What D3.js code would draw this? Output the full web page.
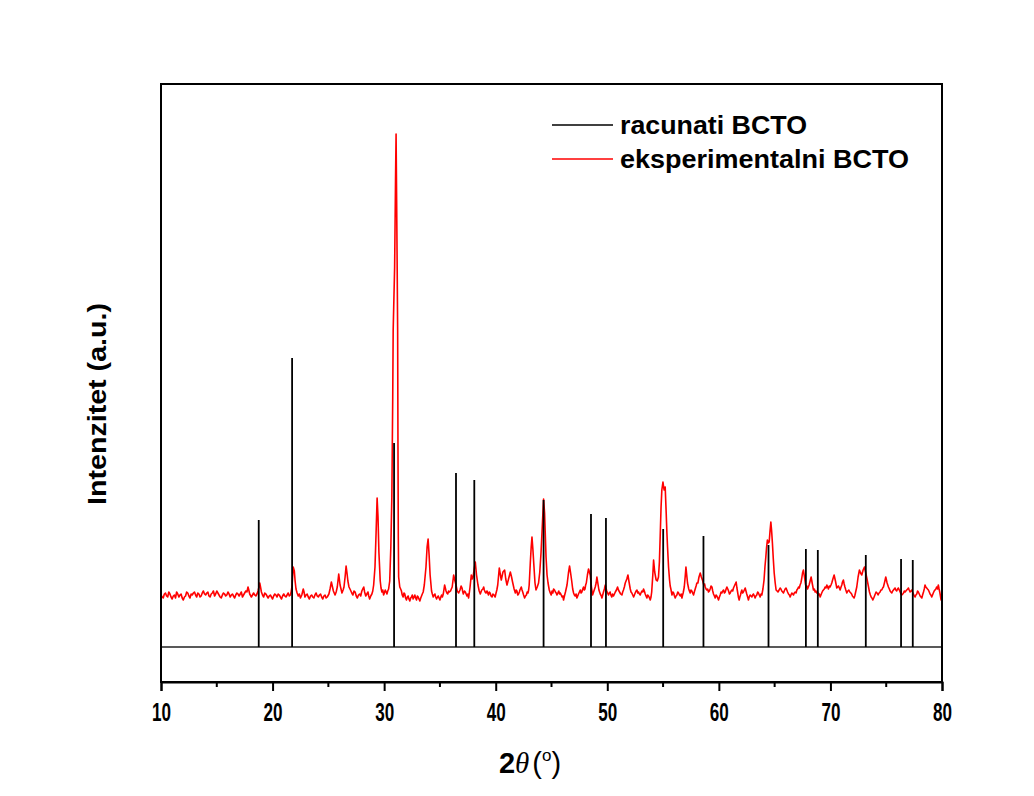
<!DOCTYPE html>
<html>
<head>
<meta charset="utf-8">
<script src="https://cdn.jsdelivr.net/npm/d3@7"></script>
<style>
  body { margin: 0; background: #fff; }
  svg { display: block; }
</style>
</head>
<body>
<div id="chart"></div>
<script>
// calculated (stick) pattern: 2theta positions and relative intensities
const stickAngles = [18.76, 21.75, 30.89, 36.44, 38.08, 44.29, 48.54, 49.88, 55.01, 58.62, 64.45, 67.80, 68.87, 73.17, 76.33, 77.38];
const stickIntensities = [127, 289, 204, 174, 167, 147, 133, 129, 118, 111, 102, 98, 97, 92, 88, 87];

// experimental pattern [2theta, intensity]
const experimental = [
  [10.0,52],[10.1,50],[10.2,49],[10.3,53],[10.4,54],[10.5,51],[10.6,50],[10.7,55],[10.8,53],[10.9,50],
  [11.0,48],[11.1,51],[11.2,52],[11.3,49],[11.4,55],[11.5,53],[11.6,50],[11.7,52],[11.8,53],[11.9,49],
  [12.0,47],[12.1,50],[12.2,51],[12.3,55],[12.4,54],[12.5,51],[12.6,49],[12.7,53],[12.8,52],[12.9,54],
  [13.0,55],[13.1,52],[13.2,50],[13.3,54],[13.4,53],[13.5,50],[13.6,51],[13.7,54],[13.8,56],[13.9,53],
  [14.0,52],[14.1,54],[14.2,55],[14.3,51],[14.4,50],[14.5,53],[14.6,54],[14.7,56],[14.8,51],[14.9,53],
  [15.0,56],[15.1,54],[15.2,52],[15.3,50],[15.4,49],[15.5,52],[15.6,54],[15.7,53],[15.8,51],[15.9,52],
  [16.0,55],[16.1,53],[16.2,50],[16.3,52],[16.4,53],[16.5,51],[16.6,49],[16.7,52],[16.8,54],[16.9,53],
  [17.0,51],[17.1,53],[17.2,55],[17.3,50],[17.4,52],[17.5,54],[17.6,56],[17.7,55],[17.8,60],[17.87,57],
  [17.95,53],[18.1,50],[18.2,52],[18.3,54],[18.4,52],[18.5,51],[18.6,53],[18.7,56],[18.78,60],[18.85,64],
  [18.92,60],[19.0,55],[19.1,52],[19.2,50],[19.3,54],[19.4,53],[19.5,51],[19.6,49],[19.7,51],[19.8,52],
  [19.9,50],[20.0,48],[20.1,51],[20.2,53],[20.3,52],[20.4,50],[20.5,53],[20.6,52],[20.7,50],[20.8,48],
  [20.9,51],[21.0,53],[21.1,51],[21.2,50],[21.3,52],[21.4,54],[21.5,51],[21.6,52],[21.68,56],
  [21.75,62],[21.85,80],[21.95,76],[22.02,66],[22.1,58],[22.2,54],[22.3,51],[22.4,53],[22.5,49],[22.62,52],
  [22.75,58],[22.82,55],[22.9,50],[23.0,52],[23.1,53],[23.2,50],[23.3,48],[23.4,51],[23.5,52],[23.6,50],
  [23.7,49],[23.8,52],[23.9,54],[24.0,51],[24.1,50],[24.2,52],[24.3,53],[24.4,50],[24.5,48],[24.6,51],
  [24.7,52],[24.8,49],[24.9,50],[25.05,53],[25.15,58],[25.27,65],[25.35,61],[25.45,56],[25.6,52],[25.7,55],
  [25.8,60],[25.93,73],[26.05,62],[26.22,54],[26.32,57],[26.4,60],[26.5,70],[26.59,81],[26.67,74],[26.75,66],
  [26.85,60],[26.98,57],[27.1,54],[27.2,52],[27.3,56],[27.4,55],[27.5,51],[27.6,49],[27.7,52],[27.8,53],
  [27.9,51],[28.0,56],[28.08,58],[28.17,60],[28.25,55],[28.35,51],[28.45,53],[28.55,55],[28.62,51],[28.7,48],
  [28.8,51],[28.9,53],[28.98,56],
  [29.06,62],[29.18,80],[29.28,115],[29.37,149],[29.45,130],[29.53,95],[29.65,66],[29.72,59],[29.8,55],[29.88,57],
  [29.95,52],[30.02,54],[30.1,57],[30.18,55],[30.25,53],[30.32,56],[30.4,58],[30.5,66],[30.6,100],[30.69,150],
  [30.77,250],[30.81,317],[30.94,380],[31.02,467],[31.07,513],[31.12,447],[31.17,377],[31.21,317],[31.24,200],
  [31.27,110],[31.3,70],[31.4,60],[31.48,58],[31.55,56],[31.62,52],[31.7,50],[31.78,54],[31.85,53],[31.92,49],
  [32.0,47],[32.08,50],[32.15,51],[32.22,48],[32.3,46],[32.38,49],[32.45,50],[32.52,52],[32.6,48],[32.68,50],
  [32.75,52],[32.82,49],[32.9,47],[32.98,51],[33.05,50],[33.12,48],[33.2,46],[33.28,49],[33.35,51],[33.42,53],
  [33.5,55],[33.6,62],[33.75,80],[33.85,100],[33.94,108],[34.03,92],[34.12,72],[34.25,56],[34.32,53],[34.4,50],
  [34.48,52],[34.55,53],[34.62,50],[34.7,48],[34.78,50],[34.85,51],[34.92,49],[35.0,47],[35.08,50],[35.15,52],
  [35.22,50],[35.3,53],[35.42,62],[35.55,56],[35.62,54],[35.7,53],[35.78,56],[35.85,55],[35.95,56],[36.02,58],
  [36.1,60],[36.23,72],[36.35,66],[36.44,62],[36.55,56],[36.68,54],[36.8,57],[36.9,61],[36.98,59],[37.05,55],
  [37.1,53],[37.2,56],[37.28,55],[37.35,53],[37.42,51],[37.5,53],[37.57,49],[37.63,54],[37.7,60],[37.81,72],
  [37.9,68],[37.97,70],[38.07,78],[38.17,85],[38.28,72],[38.41,62],[38.52,56],[38.62,53],[38.68,55],[38.75,57],
  [38.85,58],[38.92,60],[38.98,57],[39.05,55],[39.12,54],[39.22,56],[39.28,54],[39.35,52],[39.42,55],[39.5,54],
  [39.58,51],[39.67,50],[39.75,53],[39.85,52],[39.95,50],[40.03,54],[40.1,57],
  [40.18,62],[40.32,79],[40.42,72],[40.5,67],[40.65,75],[40.8,77],[40.9,68],[41.01,62],[41.15,68],[41.31,75],
  [41.42,70],[41.51,65],[41.65,58],[41.76,54],[41.83,57],[41.9,56],[41.98,52],[42.05,53],[42.12,55],[42.17,57],
  [42.29,60],[42.36,57],[42.42,55],[42.5,52],[42.59,49],[42.67,51],[42.75,52],[42.82,55],[42.89,54],[42.95,57],
  [43.0,62],[43.1,84],[43.18,100],[43.25,110],[43.33,98],[43.43,80],[43.52,64],[43.61,57],[43.72,60],[43.84,64],
  [43.95,75],[44.06,94],[44.2,127],[44.29,148],[44.38,134],[44.51,90],[44.6,72],[44.69,64],[44.8,57],[44.89,54],
  [44.97,52],[45.05,56],[45.12,54],[45.19,58],[45.27,57],[45.35,55],[45.42,54],[45.49,52],[45.57,54],[45.65,56],
  [45.72,53],[45.79,54],[45.87,52],[45.95,50],[46.02,51],[46.08,47],[46.16,51],[46.25,55],[46.39,62],[46.52,74],
  [46.62,81],[46.7,75],[46.8,67],[46.9,58],[46.98,54],[47.05,52],[47.12,51],[47.2,53],[47.28,49],[47.35,51],
  [47.42,53],[47.5,55],[47.58,57],[47.65,54],[47.72,55],[47.8,58],[47.87,60],[47.94,57],[48.0,58],[48.06,62],
  [48.12,64],[48.22,72],[48.32,78],[48.4,75],[48.47,72],[48.58,60],[48.68,52],[48.74,54],[48.8,56],[48.86,58],
  [48.92,60],[49.0,64],[49.07,70],[49.18,62],[49.25,57],[49.31,55],[49.37,53],[49.42,52],[49.47,51],[49.52,49],
  [49.59,52],[49.66,55],[49.74,58],[49.82,62],[49.88,59],[49.95,56],[50.03,54],[50.11,52],[50.18,54],[50.25,55],
  [50.32,52],[50.4,50],[50.48,53],[50.56,51],[50.64,53],[50.72,55],[50.82,57],[50.92,60],[51.0,57],[51.1,55],
  [51.2,53],[51.31,52],[51.38,55],[51.45,57],[51.53,60],[51.61,64],[51.75,68],[51.85,72],[51.95,65],[52.06,58],
  [52.13,55],[52.2,54],[52.28,52],[52.36,50],[52.43,52],[52.5,54],[52.58,56],[52.66,57],[52.73,54],[52.8,55],
  [52.88,53],[52.95,52],[53.02,54],[53.1,56],[53.18,55],[53.25,58],[53.32,56],[53.4,53],[53.47,51],[53.55,49],
  [53.62,52],[53.7,51],[53.78,49],[53.85,47],[53.92,50],
  [53.98,55],[54.08,72],[54.15,87],[54.25,75],[54.38,67],[54.48,66],[54.59,70],[54.67,85],[54.74,110],[54.82,140],
  [54.89,157],[54.99,165],[55.05,160],[55.1,157],[55.19,160],[55.28,134],[55.34,115],[55.4,100],[55.49,80],[55.58,67],
  [55.64,61],[55.7,58],[55.75,55],[55.8,52],[55.88,55],[55.95,54],[56.02,51],[56.09,49],[56.16,51],[56.24,52],
  [56.32,55],[56.39,54],[56.47,52],[56.55,51],[56.62,53],[56.69,49],[56.75,52],[56.8,54],[56.9,60],[56.98,70],
  [57.05,80],[57.12,72],[57.19,64],[57.3,58],[57.36,56],[57.43,54],[57.5,57],[57.58,56],[57.65,54],[57.73,52],
  [57.8,55],[57.88,58],[57.96,61],[58.03,64],[58.12,64],[58.22,70],[58.33,74],[58.43,70],[58.53,67],[58.65,62],
  [58.72,63],[58.78,60],[58.85,58],[58.92,57],[59.0,58],[59.07,55],[59.15,56],[59.22,58],[59.3,61],[59.38,60],
  [59.45,56],[59.52,53],[59.6,51],[59.67,49],[59.75,52],[59.82,51],[59.9,49],[59.97,47],[60.05,50],[60.12,52],
  [60.2,55],[60.27,54],[60.35,56],[60.42,57],[60.5,54],[60.57,55],[60.65,58],[60.72,60],[60.8,58],[60.87,56],
  [60.95,53],[61.02,54],[61.1,56],[61.17,57],[61.24,56],[61.31,59],[61.43,62],[61.55,65],[61.62,59],[61.68,55],
  [61.75,50],[61.82,47],[61.88,50],[61.94,52],[62.0,55],[62.06,57],[62.13,54],[62.2,55],[62.28,57],[62.36,59],
  [62.43,56],[62.5,53],[62.58,50],[62.65,47],[62.72,50],[62.8,52],[62.88,51],[62.96,50],[63.03,52],[63.1,53],
  [63.18,51],[63.25,49],[63.32,51],[63.4,52],[63.48,55],[63.55,54],[63.62,52],[63.7,50],[63.78,53],[63.85,52],
  [63.95,58],[64.05,67],[64.13,80],[64.21,90],[64.28,100],[64.35,107],[64.43,104],[64.51,105],[64.58,115],[64.66,125],
  [64.73,116],[64.8,104],[64.88,88],[64.96,74],[65.05,64],[65.13,57],[65.22,56],[65.3,55],[65.4,57],[65.49,59],
  [65.56,58],[65.64,56],[65.72,55],[65.79,54],[65.86,56],[65.94,58],[66.02,59],[66.09,57],[66.16,55],[66.24,53],
  [66.32,52],[66.39,50],[66.46,52],[66.54,54],[66.62,53],[66.69,52],[66.76,54],[66.84,55],[66.92,54],[66.99,57],
  [67.06,58],[67.14,60],[67.21,59],[67.28,62],[67.35,64],[67.42,68],[67.5,74],[67.58,77],[67.7,68],[67.76,63],
  [67.82,60],[67.88,61],[67.95,58],[68.02,60],[68.09,62],[68.18,66],[68.27,70],[68.38,63],[68.48,57],[68.56,58],
  [68.63,55],[68.7,56],[68.78,54],[68.86,55],[68.93,52],[69.0,53],[69.08,50],[69.15,52],[69.22,54],[69.3,56],
  [69.37,57],[69.45,58],[69.52,60],[69.6,59],[69.68,62],[69.75,60],[69.82,58],[69.9,61],[69.97,60],[70.05,62],
  [70.12,64],[70.22,68],[70.33,72],[70.45,66],[70.57,59],[70.65,60],[70.72,61],[70.8,59],[70.87,57],[70.95,60],
  [71.02,62],[71.08,65],[71.16,67],[71.23,63],[71.3,60],[71.38,57],[71.47,54],[71.56,56],[71.65,57],[71.74,55],
  [71.83,54],[71.9,53],[71.97,51],[72.05,50],[72.12,49],[72.18,51],[72.24,54],[72.3,57],[72.36,60],[72.42,65],
  [72.48,70],[72.6,77],[72.7,74],[72.81,72],[72.93,77],[73.05,80],[73.15,75],[73.26,69],[73.38,62],[73.5,55],
  [73.58,52],[73.65,50],[73.72,49],[73.8,47],[73.88,49],[73.95,51],[74.02,53],[74.09,55],[74.18,54],[74.27,52],
  [74.36,54],[74.45,55],[74.52,57],[74.6,57],[74.68,59],[74.75,60],[74.86,65],[74.96,70],[75.08,64],[75.2,60],
  [75.28,58],[75.35,56],[75.42,55],[75.5,54],[75.58,56],[75.65,57],[75.72,58],[75.79,59],[75.86,57],[75.94,56],
  [76.02,58],[76.09,59],[76.17,57],[76.25,55],[76.32,53],[76.4,52],[76.48,53],[76.55,54],[76.62,56],[76.69,55],
  [76.76,56],[76.84,57],[76.92,58],[76.99,59],[77.06,57],[77.14,55],[77.22,56],[77.29,57],[77.36,55],[77.44,53],
  [77.52,51],[77.59,50],[77.66,52],[77.74,53],[77.81,56],[77.88,55],[77.96,53],[78.04,51],[78.12,50],[78.19,49],
  [78.26,52],[78.34,55],[78.41,58],[78.48,62],[78.55,60],[78.63,59],[78.7,58],[78.78,57],[78.86,55],[78.93,53],
  [79.0,52],[79.08,50],[79.15,52],[79.22,54],[79.3,56],[79.37,57],[79.45,58],[79.52,60],[79.6,58],[79.67,62],
  [79.74,58],[79.8,55],[79.86,51],[79.92,47],[80.0,50]
];

const xTicks = [10, 20, 30, 40, 50, 60, 70, 80];
const xMinorTicks = [15, 25, 35, 45, 55, 65, 75];
const seriesNames = ["racunati BCTO", "eksperimentalni BCTO"];
const seriesColors = ["#000000", "#ff0000"];

const width = 1034, height = 796;
const margin = { top: 84, right: 92, bottom: 114, left: 161 };

const svg = d3.select("#chart")
  .append("svg")
    .attr("width", width)
    .attr("height", height);

const x = d3.scaleLinear()
  .domain([10, 80])
  .range([margin.left, width - margin.right]);

const y = d3.scaleLinear()
  .domain([-35, 563])
  .range([height - margin.bottom, margin.top]);

// experimental curve
const line = d3.line()
  .x(d => x(d[0]))
  .y(d => y(d[1]));

svg.append("path")
  .datum(experimental)
  .attr("fill", "none")
  .attr("stroke", seriesColors[1])
  .attr("stroke-width", 1.6)
  .attr("stroke-linejoin", "round")
  .attr("d", line);

// stick baseline
svg.append("line")
  .attr("x1", x(10))
  .attr("x2", x(80))
  .attr("y1", y(0))
  .attr("y2", y(0))
  .attr("stroke", "#222")
  .attr("stroke-width", 1.3);

// sticks
svg.selectAll("line.stick")
  .data(stickAngles.map((a, i) => ({ angle: a, value: stickIntensities[i] })))
  .join("line")
  .attr("class", "stick")
  .attr("x1", d => x(d.angle))
  .attr("x2", d => x(d.angle))
  .attr("y1", y(0))
  .attr("y2", d => y(d.value))
  .attr("stroke", seriesColors[0])
  .attr("stroke-width", 1.8);

// frame
svg.append("rect")
  .attr("x", x(10))
  .attr("y", y(563))
  .attr("width", x(80) - x(10))
  .attr("height", y(-35) - y(563))
  .attr("fill", "none")
  .attr("stroke", "#000")
  .attr("stroke-width", 2);

// x axis
const xAxis = svg.append("g")
  .attr("transform", `translate(0, ${y(-35)})`)
  .call(d3.axisBottom(x).tickValues(xTicks).tickSize(9).tickPadding(12).tickFormat(d3.format("d")));

xAxis.select(".domain").attr("stroke-width", 2);
xAxis.selectAll(".tick line").attr("stroke-width", 2);
xAxis.selectAll(".tick text")
  .style("font-family", "'Liberation Sans Narrow', 'Arial Narrow', 'Liberation Sans', Arial, sans-serif")
  .style("font-weight", "bold")
  .style("font-size", "25px")
  .attr("fill", "#000")
  .attr("textLength", 19)
  .attr("lengthAdjust", "spacingAndGlyphs");

svg.append("g")
  .attr("transform", `translate(0, ${y(-35)})`)
  .selectAll("line")
  .data(xMinorTicks)
  .join("line")
  .attr("x1", d => x(d))
  .attr("x2", d => x(d))
  .attr("y1", 0)
  .attr("y2", 5)
  .attr("stroke", "#000")
  .attr("stroke-width", 2);

// axis titles
const title = svg.append("text")
  .attr("x", 530)
  .attr("y", 773)
  .attr("text-anchor", "middle")
  .style("font-family", "'Liberation Sans', Arial, sans-serif")
  .style("font-weight", "bold")
  .style("font-size", "29px");
title.append("tspan").text("2");
title.append("tspan")
  .style("font-family", "'Liberation Serif', 'Times New Roman', serif")
  .style("font-style", "italic")
  .style("font-weight", "normal")
  .text("θ");
title.append("tspan").attr("dx", 3).style("font-weight", "normal").text("(");
title.append("tspan").attr("dy", -12).style("font-size", "17px").style("font-weight", "normal").text("o");
title.append("tspan").attr("dy", 12).style("font-weight", "normal").text(")");

svg.append("text")
  .attr("transform", "translate(106, 404) rotate(-90)")
  .attr("text-anchor", "middle")
  .style("font-family", "'Liberation Sans', Arial, sans-serif")
  .style("font-weight", "bold")
  .style("font-size", "25px")
  .attr("textLength", 202)
  .attr("lengthAdjust", "spacingAndGlyphs")
  .text("Intenzitet (a.u.)");

// legend
const legendWidths = [187, 289];
const legend = svg.append("g");
seriesNames.forEach((name, i) => {
  const ly = 125 + i * 34;
  legend.append("line")
    .attr("x1", 552)
    .attr("x2", 613)
    .attr("y1", ly)
    .attr("y2", ly)
    .attr("stroke", seriesColors[i])
    .attr("stroke-width", 1.6);
  legend.append("text")
    .attr("x", 620)
    .attr("y", ly + 9)
    .style("font-family", "'Liberation Sans', Arial, sans-serif")
    .style("font-weight", "bold")
    .style("font-size", "26px")
    .attr("textLength", legendWidths[i])
    .attr("lengthAdjust", "spacingAndGlyphs")
    .text(name);
});
</script>
</body>
</html>
